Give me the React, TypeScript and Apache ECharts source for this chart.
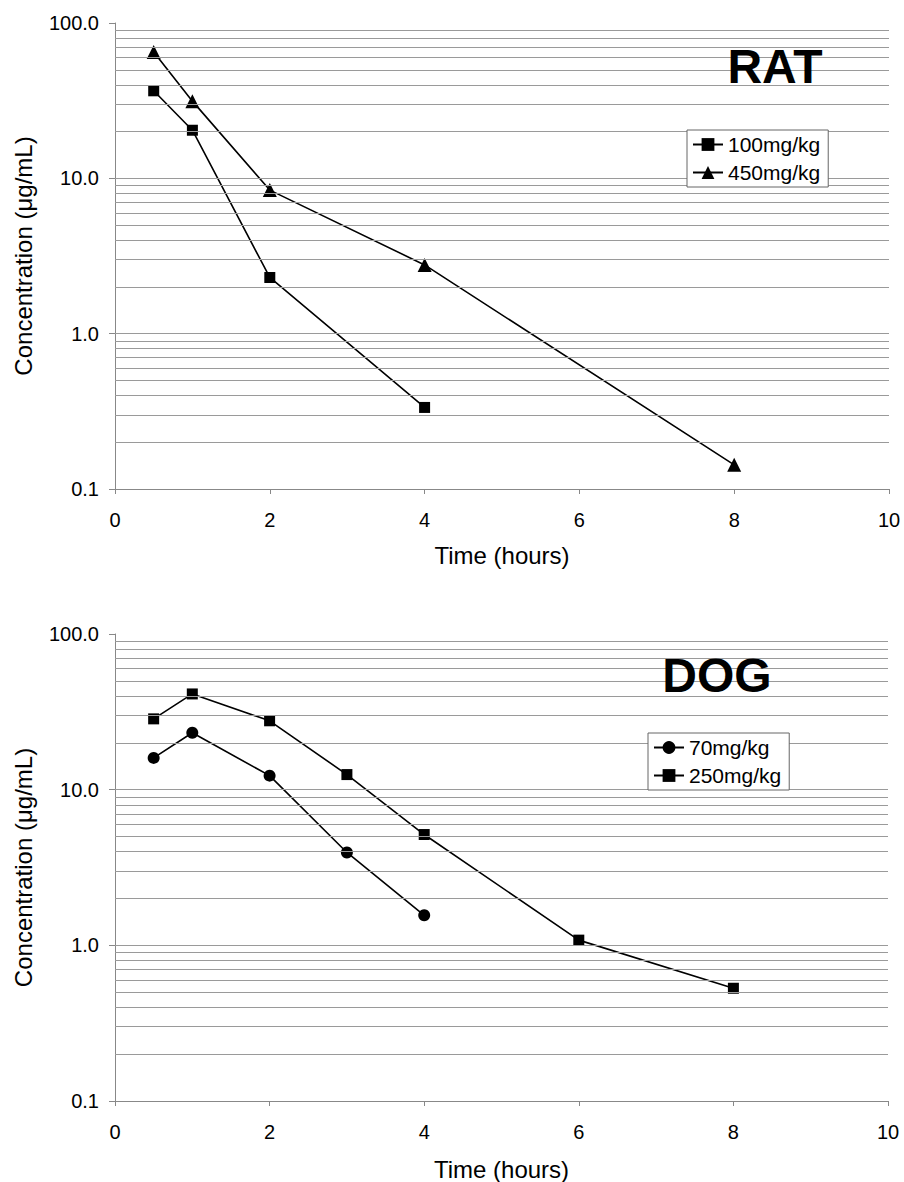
import React, { useEffect, useRef } from "react";
import * as echarts from "echarts";

const FONT = '"Liberation Sans", Arial, Helvetica, sans-serif';

// RAT data
const ratTimes100 = [0.5, 1, 2, 4];
const rat100 = [36.6, 20.4, 2.3, 0.335];
const ratTimes450 = [0.5, 1, 2, 4, 8];
const rat450 = [65, 31.4, 8.4, 2.77, 0.143];

// DOG data
const dogTimes70 = [0.5, 1, 2, 3, 4];
const dog70 = [16.0, 23.2, 12.3, 3.95, 1.56];
const dogTimes250 = [0.5, 1, 2, 3, 4, 6, 8];
const dog250 = [28.5, 41.2, 27.7, 12.5, 5.15, 1.08, 0.53];

// horizontal gridline values (log minor + major, excluding top/bottom)
const gridValues = [
  0.2, 0.3, 0.4, 0.5, 0.6, 0.7, 0.8, 0.9, 1,
  2, 3, 4, 5, 6, 7, 8, 9, 10,
  20, 30, 40, 50, 60, 70, 80, 90,
];

const xMin = 0;
const xMax = 10;
const xInterval = 2;
const yMin = 0.1;
const yMax = 100;

const zip = (xs: number[], ys: number[]) => xs.map((x, i) => [x, ys[i]]);

const gridMarkLine = {
  silent: true,
  symbol: ["none", "none"],
  label: { show: false },
  lineStyle: { color: "#9a9a9a", width: 1, type: "solid" },
  emphasis: { disabled: true },
  animation: false,
  data: gridValues.map((v) => ({ yAxis: v })),
};

function xAxisFor(gridIndex: number, nameGap: number) {
  return {
    type: "value",
    gridIndex,
    min: xMin,
    max: xMax,
    interval: xInterval,
    axisLine: { show: true, onZero: false, lineStyle: { color: "#888", width: 1 } },
    axisTick: { show: true, length: 5, lineStyle: { color: "#888" } },
    axisLabel: { fontSize: 20, color: "#000", fontFamily: FONT, margin: 21 },
    splitLine: { show: false },
    name: "Time (hours)",
    nameLocation: "middle",
    nameGap,
    nameTextStyle: { fontSize: 24, color: "#000", fontFamily: FONT },
  };
}

function yAxisFor(gridIndex: number) {
  return {
    type: "log",
    logBase: 10,
    gridIndex,
    min: yMin,
    max: yMax,
    axisLine: { show: true, onZero: false, lineStyle: { color: "#888", width: 1 } },
    axisTick: { show: true, length: 6, lineStyle: { color: "#888" } },
    axisLabel: {
      fontSize: 20,
      color: "#000",
      fontFamily: FONT,
      margin: 16,
      formatter: (v: number) => Number(v).toFixed(1),
    },
    splitLine: { show: false },
    minorTick: { show: false },
    name: "Concentration (μg/mL)",
    nameLocation: "middle",
    nameGap: 80,
    nameRotate: 90,
    nameTextStyle: { fontSize: 24, color: "#000", fontFamily: FONT },
  };
}

function lineSeries(
  name: string,
  idx: number,
  data: number[][],
  symbol: string,
  symbolSize: number,
  withGrid: boolean
) {
  const s: any = {
    type: "line",
    name,
    xAxisIndex: idx,
    yAxisIndex: idx,
    data,
    symbol,
    symbolSize,
    showAllSymbol: true,
    lineStyle: { color: "#000", width: 1.6 },
    itemStyle: { color: "#000" },
    emphasis: { disabled: true },
    z: 3,
  };
  if (withGrid) s.markLine = gridMarkLine;
  return s;
}

function legendFor(names: string[], left: number, top: number) {
  return {
    data: names,
    orient: "vertical",
    left,
    top,
    z: 20,
    itemWidth: 30,
    itemHeight: 16,
    itemGap: 7,
    padding: [4, 8, 4, 5],
    backgroundColor: "#fff",
    borderColor: "#666",
    borderWidth: 1,
    borderRadius: 0,
    selectedMode: false,
    textStyle: { fontSize: 21, color: "#000", fontFamily: FONT, padding: [0, 0, 0, 0] },
  };
}

export default function App() {
  const ref = useRef<HTMLDivElement>(null);

  useEffect(() => {
    if (!ref.current) return;
    const chart = echarts.init(ref.current, undefined, { renderer: "svg" });
    const option: any = {
      animation: false,
      backgroundColor: "#fff",
      textStyle: { fontFamily: FONT },
      grid: [
        { left: 115, top: 23, width: 774, height: 466 },
        { left: 115, top: 634, width: 773, height: 468 },
      ],
      xAxis: [xAxisFor(0, 54), xAxisFor(1, 56)],
      yAxis: [yAxisFor(0), yAxisFor(1)],
      legend: [
        legendFor(["100mg/kg", "450mg/kg"], 687, 130),
        legendFor(["70mg/kg", "250mg/kg"], 648, 733),
      ],
      graphic: [
        {
          type: "text",
          x: 775,
          y: 66,
          z: 10,
          style: {
            text: "RAT",
            align: "center",
            verticalAlign: "middle",
            fontSize: 48,
            fontWeight: "bold",
            fontFamily: FONT,
            fill: "#000",
          },
        },
        {
          type: "text",
          x: 717,
          y: 675,
          z: 10,
          style: {
            text: "DOG",
            align: "center",
            verticalAlign: "middle",
            fontSize: 48,
            fontWeight: "bold",
            fontFamily: FONT,
            fill: "#000",
          },
        },
      ],
      series: [
        lineSeries("100mg/kg", 0, zip(ratTimes100, rat100), "rect", 11, true),
        lineSeries("450mg/kg", 0, zip(ratTimes450, rat450), "triangle", 14, false),
        lineSeries("70mg/kg", 1, zip(dogTimes70, dog70), "circle", 12, true),
        lineSeries("250mg/kg", 1, zip(dogTimes250, dog250), "rect", 11, false),
      ],
    };
    chart.setOption(option);
    return () => chart.dispose();
  }, []);

  return (
    <div
      ref={ref}
      style={{ position: "absolute", left: 0, top: 0, width: 904, height: 1182, background: "#fff" }}
    />
  );
}
